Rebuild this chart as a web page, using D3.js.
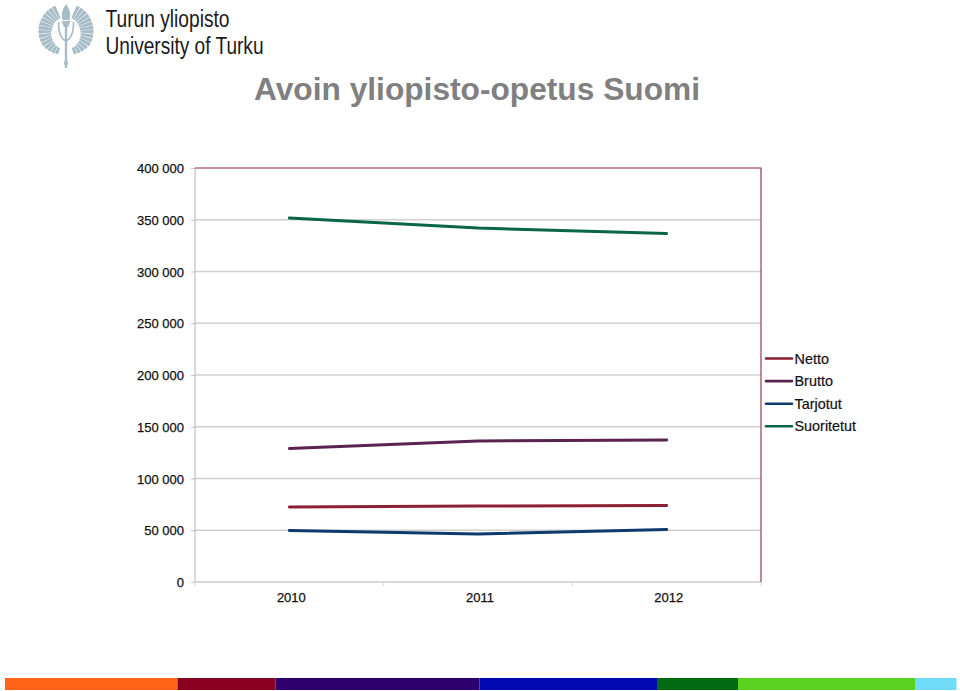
<!DOCTYPE html>
<html><head><meta charset="utf-8">
<script src="https://cdn.jsdelivr.net/npm/d3@7/dist/d3.min.js"></script>
<style>html,body{margin:0;padding:0;background:#fff}svg{display:block}text{font-family:"Liberation Sans",Arial,sans-serif}</style>
</head><body><svg id="c" width="960" height="691"></svg>
<script>
const categories = ["2010","2011","2012"];
const seriesNames = ["Netto","Brutto","Tarjotut","Suoritetut"];
const netto = [72500,73400,73900];
const brutto = [129000,136200,137200];
const tarjotut = [49800,46400,50700];
const suoritetut = [351700,342000,336700];
const seriesValues = [netto,brutto,tarjotut,suoritetut];
const seriesColors = ["#8c1f35","#5a2350","#0f3a70","#0b6548"];
const yTicks = [0,50000,100000,150000,200000,250000,300000,350000,400000];
const footerStops = [5,177.5,275.5,479.5,657,738,915,956.5];
const footerColors = ["#ff6418","#8a0020","#2d006e","#0008b0","#006a10","#5cd220","#70dcfa"];

const svg = d3.select("#c");
const x = d3.scaleBand().domain(categories).range([195,761]);
const y = d3.scaleLinear().domain([0,400000]).range([582,168]);
const fmt = v => v===0 ? "0" : d3.format(",")(v).replace(/,/g," ");
const ink = "#111";

// footer
svg.append("g").selectAll("rect").data(footerColors).join("rect")
  .attr("x",(d,i)=>footerStops[i]).attr("width",(d,i)=>footerStops[i+1]-footerStops[i])
  .attr("y",678).attr("height",12).attr("fill",d=>d);

// logo
const logoColor = "#a6bcc6";
const logo = svg.append("g").attr("fill",logoColor);
const feather = d3.arc();
const nF = 15, a0 = 22*Math.PI/180, a1 = 162*Math.PI/180, step = (a1-a0)/nF;
[-1,1].forEach(side=>{
  d3.range(nF).forEach(i=>{
    logo.append("path").attr("transform",`translate(66,31) scale(${side},1)`)
      .attr("d",feather({innerRadius:i<6?14:14+(i-6)*0.5,outerRadius:i>10?27.5-(i-10)*0.7:27.5,
        startAngle:a0+i*step+0.012,endAngle:a0+(i+1)*step-0.012}));
  });
});
logo.append("line").attr("x1",66).attr("x2",66).attr("y1",22).attr("y2",68).attr("stroke",logoColor).attr("stroke-width",2.4);
logo.append("path").attr("d","M58.5 22 Q58.5 38 66 41 Q73.5 38 73.5 22").attr("fill","none").attr("stroke",logoColor).attr("stroke-width",1.6);
logo.append("path").attr("d","M66 4 Q60 12 62.5 20 L69.5 20 Q72 12 66 4Z");
logo.append("path").attr("d","M61.5 21 H70.5 L68 27 H64Z");
logo.append("circle").attr("cx",66).attr("cy",63).attr("r",2.2);
[["Turun yliopisto",27,124],["University of Turku",54,158]].forEach(([t,by,w])=>{
  svg.append("text").attr("x",105.5).attr("y",by).attr("font-size",23).attr("fill","#1a1a1a")
    .attr("textLength",w).attr("lengthAdjust","spacingAndGlyphs").text(t);
});

// title
svg.append("text").attr("x",477).attr("y",100).attr("text-anchor","middle")
  .attr("font-size",31.7).attr("font-weight","bold").attr("fill","#808080").text("Avoin yliopisto-opetus Suomi");

// gridlines
svg.append("g").selectAll("line").data(yTicks.slice(1,-1)).join("line")
  .attr("x1",195).attr("x2",761).attr("y1",d=>y(d)).attr("y2",d=>y(d))
  .attr("stroke","#d0d0d0").attr("stroke-width",1.3);

// axes
const yAxis = d3.axisLeft(y).tickValues(yTicks).tickFormat(fmt).tickSize(4).tickPadding(6);
const gy = svg.append("g").attr("transform","translate(195,0)").call(yAxis);
gy.select(".domain").attr("stroke","#c4c4c4").attr("stroke-width",1.3).attr("d","M0,168V582");
gy.selectAll("line").attr("stroke","#c4c4c4");
gy.selectAll("text").attr("font-size",13).attr("fill",ink).attr("stroke",ink).attr("stroke-width",0.25)
  .style("font-family","'Liberation Sans',Arial,sans-serif").attr("dy","0.36em").attr("x",-11);

const gx = svg.append("g").attr("transform","translate(0,582)")
  .call(d3.axisBottom(x).tickSize(0).tickPadding(11));
gx.select(".domain").attr("stroke","#cccccc").attr("stroke-width",1.3).attr("d","M195,0H761");
gx.selectAll("text").attr("font-size",13).attr("fill",ink).attr("stroke",ink).attr("stroke-width",0.25)
  .style("font-family","'Liberation Sans',Arial,sans-serif").attr("dx",2);
gx.selectAll("line").remove();
svg.append("g").selectAll("line").data([0,1,2,3]).join("line")
  .attr("x1",i=>195+i*x.bandwidth()).attr("x2",i=>195+i*x.bandwidth())
  .attr("y1",582).attr("y2",586).attr("stroke","#d4d4d4").attr("stroke-width",1);

// red frame (top and right)
svg.append("path").attr("d",`M195,${y(400000)}H761V${y(0)}`).attr("fill","none").attr("stroke","#8e2a42").attr("stroke-width",1.1);

// lines
const line = d3.line().x((d,i)=>x(categories[i])+x.bandwidth()/2).y(d=>y(d));
svg.append("g").selectAll("path").data(seriesValues).join("path")
  .attr("d",line).attr("fill","none").attr("stroke",(d,i)=>seriesColors[i])
  .attr("stroke-width",3).attr("stroke-linecap","round");

// legend
const lg = svg.append("g").selectAll("g").data(seriesNames).join("g")
  .attr("transform",(d,i)=>`translate(0,${358.5+i*22.6})`);
lg.append("line").attr("x1",766).attr("x2",792).attr("stroke",(d,i)=>seriesColors[i]).attr("stroke-width",2.6).attr("stroke-linecap","round");
lg.append("text").attr("x",794.5).attr("y",5).attr("font-size",14.4).attr("fill",ink).attr("stroke",ink).attr("stroke-width",0.2).text(d=>d);
</script></body></html>
